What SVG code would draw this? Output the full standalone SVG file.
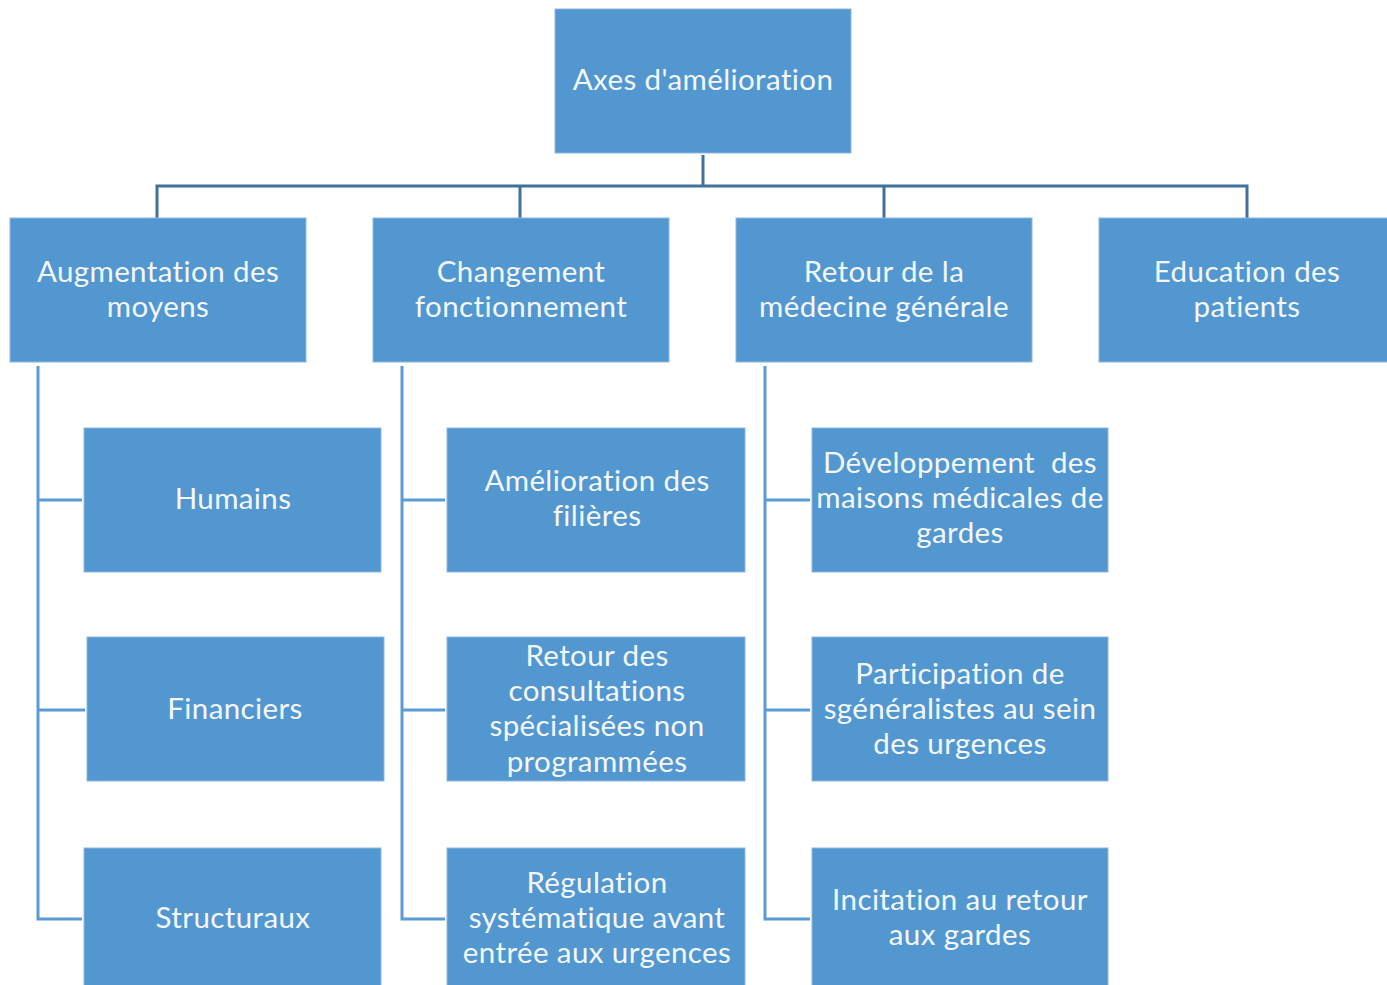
<svg xmlns="http://www.w3.org/2000/svg" width="1387" height="985" viewBox="0 0 1387 985">
<style>
.box{fill:#5297D0;stroke:#8DB7E0;stroke-width:1}
.t{font-family:Lato,"Liberation Sans",sans-serif;font-size:29.5px;letter-spacing:0.4px;fill:#F4F8FC;text-anchor:middle;white-space:pre}
.bus{stroke:#41719C;stroke-width:3;fill:none}
.br{stroke:#5B9BD5;stroke-width:3;fill:none}
</style>
<rect width="1387" height="985" fill="#ffffff"/>
<g id="connectors">
<path class="bus" d="M703 155V186M157 186H1248M157 184.5V218M520 184.5V218M884 184.5V218M1247 184.5V218"/>
<path class="br" d="M38 366V919H82M38 500H82M38 710H85"/>
<path class="br" d="M402 366V919H445M402 500H445M402 710H445"/>
<path class="br" d="M765 366V919H810M765 500H810M765 710H810"/>
</g>
<g id="root"><rect class="box" x="555" y="9" width="296" height="144"/><text class="t" x="703" y="90">Axes d'amélioration</text></g>
<g id="n-augmentation"><rect class="box" x="10" y="218" width="296" height="144"/><text class="t" x="158" y="282">Augmentation des</text><text class="t" x="158" y="317">moyens</text></g>
<g id="n-changement"><rect class="box" x="373" y="218" width="296" height="144"/><text class="t" x="521" y="282">Changement</text><text class="t" x="521" y="317">fonctionnement</text></g>
<g id="n-retour"><rect class="box" x="736" y="218" width="296" height="144"/><text class="t" x="884" y="282">Retour de la</text><text class="t" x="884" y="317">médecine générale</text></g>
<g id="n-education"><rect class="box" x="1099" y="218" width="290" height="144"/><text class="t" x="1247" y="282">Education des</text><text class="t" x="1247" y="317">patients</text></g>
<g id="n-humains"><rect class="box" x="84" y="428" width="297" height="144"/><text class="t" x="233" y="509">Humains</text></g>
<g id="n-financiers"><rect class="box" x="87" y="637" width="297" height="144"/><text class="t" x="235" y="719">Financiers</text></g>
<g id="n-structuraux"><rect class="box" x="84" y="848" width="297" height="144"/><text class="t" x="233" y="928">Structuraux</text></g>
<g id="n-filieres"><rect class="box" x="447" y="428" width="298" height="144"/><text class="t" x="597" y="491">Amélioration des</text><text class="t" x="597" y="526">filières</text></g>
<g id="n-consultations"><rect class="box" x="447" y="637" width="298" height="144"/><text class="t" x="597" y="666">Retour des</text><text class="t" x="597" y="701">consultations</text><text class="t" x="597" y="736">spécialisées non</text><text class="t" x="597" y="772">programmées</text></g>
<g id="n-regulation"><rect class="box" x="447" y="848" width="298" height="144"/><text class="t" x="597" y="893">Régulation</text><text class="t" x="597" y="928">systématique avant</text><text class="t" x="597" y="963">entrée aux urgences</text></g>
<g id="n-maisons"><rect class="box" x="812" y="428" width="296" height="144"/><text class="t" x="960" y="473">Développement  des</text><text class="t" x="960" y="508">maisons médicales de</text><text class="t" x="960" y="543">gardes</text></g>
<g id="n-participation"><rect class="box" x="812" y="637" width="296" height="144"/><text class="t" x="960" y="684">Participation de</text><text class="t" x="960" y="719">sgénéralistes au sein</text><text class="t" x="960" y="754">des urgences</text></g>
<g id="n-incitation"><rect class="box" x="812" y="848" width="296" height="144"/><text class="t" x="960" y="910">Incitation au retour</text><text class="t" x="960" y="945">aux gardes</text></g>
</svg>
